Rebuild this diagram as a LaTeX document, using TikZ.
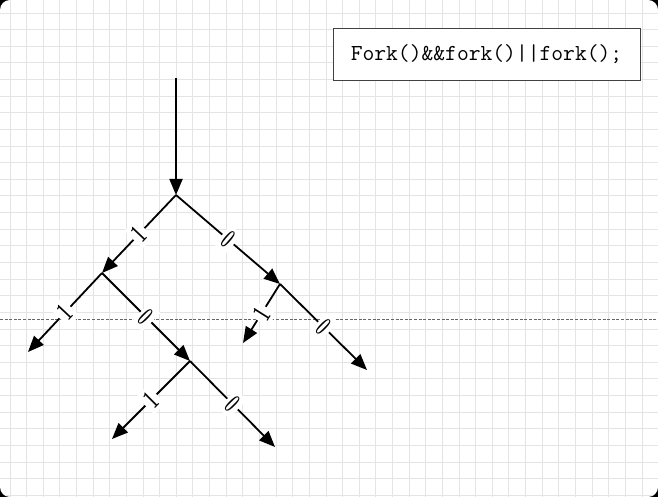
\documentclass[tikz,border=0pt]{standalone}
\usepackage{fontspec}
\usepackage{graphicx}
\usetikzlibrary{arrows.meta}
\definecolor{gridc}{HTML}{E4E4E4}
\newcommand\lblone{\scalebox{0.55}[1]{\fontsize{28}{28}\selectfont\bfseries 1}}
\newcommand\lblzero{\scalebox{0.5}[1]{\fontsize{28}{28}\selectfont\bfseries 0}}
\tikzset{
  edge/.style={line width=1.8bp, -{Triangle[length=16bp,width=13bp]}},
  lbl/.style={sloped, fill=white, inner sep=3.5bp, pos=0.5},
  codebox/.style={draw=black!75, line width=0.8bp, fill=white, minimum width=307bp, minimum height=52bp, inner sep=0pt, font=\ttfamily\fontsize{23}{24}\selectfont}
}
\begin{document}
\begin{tikzpicture}[x=1bp,y=-1bp]
\useasboundingbox (0,0) rectangle (658,497);
% background
\fill[black] (0,0) rectangle (658,497);
\fill[white, rounded corners=10bp] (0,0) rectangle (658,497);
\begin{scope}
\clip[rounded corners=10bp] (0,0) rectangle (658,497);
\foreach \i in {0,...,39} {
  \draw[gridc, line width=0.9bp] ({10+16.63*\i},0) -- ({10+16.63*\i},497);
}
\foreach \j in {0,...,29} {
  \draw[gridc, line width=0.9bp] (0,{13+16.63*\j}) -- (658,{13+16.63*\j});
}
\end{scope}
% dashed separator
\coordinate (dl) at (0,319);
\coordinate (dr) at (658,319);
\draw[black!60, line width=0.7bp, dash pattern=on 3bp off 1.6bp] (dl) -- (dr);
% code box
\node[codebox] (code) at (486.5,54) {Fork()\&\&fork()||fork();};
% tree points
\coordinate (top) at (176,78);
\coordinate (A) at (176,195);
\coordinate (B) at (102,273);
\coordinate (C) at (280,284);
\coordinate (D) at (190,361);
\coordinate (BL) at (28,352);
\coordinate (CL) at (243,343);
\coordinate (CR) at (367,370);
\coordinate (DL) at (112,439);
\coordinate (DR) at (275,447);
\draw[edge] (top) -- (A);
\draw[edge] (A) -- node[lbl] (lab1) {\lblone} (B);
\draw[edge] (A) -- node[lbl] (lab2) {\lblzero} (C);
\draw[edge] (B) -- node[lbl] (lab3) {\lblone} (BL);
\draw[edge] (B) -- node[lbl] (lab4) {\lblzero} (D);
\draw[edge] (C) -- node[lbl] (lab5) {\lblone} (CL);
\draw[edge] (C) -- node[lbl] (lab6) {\lblzero} (CR);
\draw[edge] (D) -- node[lbl] (lab7) {\lblone} (DL);
\draw[edge] (D) -- node[lbl] (lab8) {\lblzero} (DR);
\end{tikzpicture}
\end{document}
